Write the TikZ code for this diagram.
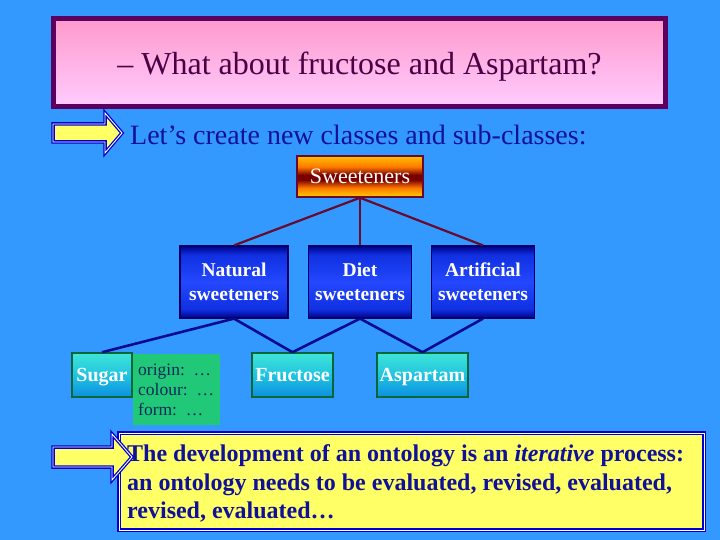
\documentclass[tikz,border=0pt]{standalone}
\usepackage{fontspec}
\setmainfont{Liberation Serif}
\definecolor{bg}{HTML}{3399FF}
\definecolor{titleborder}{HTML}{5C0060}
\definecolor{titletext}{HTML}{4A0045}
\definecolor{pinktop}{HTML}{FF99CC}
\definecolor{pinkbot}{HTML}{FFCCFF}
\definecolor{navy}{HTML}{10109A}
\definecolor{arrowblue}{HTML}{0000CC}
\definecolor{lemon}{HTML}{FFFF66}
\definecolor{maroon}{HTML}{660A2E}
\definecolor{connblue}{HTML}{0A0A90}
\definecolor{leafborder}{HTML}{006838}
\definecolor{notegreen}{HTML}{20C878}
\definecolor{notetext}{HTML}{0A2A5A}
\definecolor{sw1}{HTML}{FFD000}
\definecolor{sw2}{HTML}{FF7A00}
\definecolor{sw3}{HTML}{7A0000}
\definecolor{bl1}{HTML}{00008C}
\definecolor{bl2}{HTML}{1030E0}
\definecolor{bl3}{HTML}{2448FF}
\definecolor{cy1}{HTML}{40E4D8}
\definecolor{cy2}{HTML}{20C4E0}
\definecolor{cy3}{HTML}{0C90E0}
\pgfdeclareverticalshading{sweetshade}{100bp}{color(0bp)=(sw1); color(25bp)=(sw1); color(36bp)=(sw2); color(46bp)=(sw3); color(52bp)=(sw3); color(62bp)=(sw2); color(75bp)=(sw1!80!sw2); color(100bp)=(sw1!80!sw2)}
\pgfdeclareverticalshading{blueshade}{100bp}{color(0bp)=(bl1); color(25bp)=(bl1); color(31bp)=(bl2); color(50bp)=(bl3); color(69bp)=(bl2); color(75bp)=(bl1); color(100bp)=(bl1)}
\pgfdeclareverticalshading{leafshade}{100bp}{color(0bp)=(cy3); color(25bp)=(cy3); color(50bp)=(cy2); color(75bp)=(cy1); color(100bp)=(cy1)}
\tikzset{
  topbox/.style={draw=maroon, line width=1.5pt, shading=sweetshade, shade, text=white, font=\fontsize{22}{24}\selectfont, inner sep=0pt},
  midbox/.style={draw=bl1!70!black, line width=1.2pt, shading=blueshade, shade, text=white, font=\bfseries\fontsize{19.5}{24}\selectfont, align=center, inner sep=0pt, minimum height=72pt},
  leafbox/.style={draw=leafborder, line width=1.5pt, shading=leafshade, shade, text=white, font=\bfseries\fontsize{20}{22}\selectfont, inner sep=0pt, minimum height=44pt, text height=15pt, text depth=2pt},
  notebox/.style={fill=notegreen, text=notetext, font=\fontsize{17.5}{20}\selectfont, align=left, inner xsep=5pt, inner ysep=0pt},
  upconn/.style={draw=maroon, line width=2.2pt},
  lowconn/.style={draw=connblue, line width=2.6pt},
  fatarrow/.style={draw=arrowblue, line width=1.3pt, double=white, double distance=0.9pt, fill=lemon, line join=miter}
}
\begin{document}
\begin{tikzpicture}[x=1pt,y=-1pt]
\useasboundingbox (0,0) rectangle (720,540);
\fill[bg] (0,0) rectangle (720,540);
% title
\node[draw=titleborder, line width=5pt, top color=pinktop, bottom color=pinkbot, minimum width=612pt, minimum height=88pt, inner sep=0pt] (title) at (359.5,62.5) {};
\node[anchor=base, text=titletext, font=\fontsize{32}{34}\selectfont, inner sep=0pt] (titletxt) at (359.5,75) {-- What about fructose and Aspartam?};
% arrow 1
\draw[fatarrow] (53,124) -- (105,124) -- (105,113) -- (122,133) -- (105,153) -- (105,142) -- (53,142) -- cycle;
\node[anchor=base west, text=navy, font=\fontsize{28}{30}\selectfont, inner sep=0pt] (sub) at (130,145) {Let’s create new classes and sub-classes:};
% hierarchy
\node[topbox, minimum width=126pt, minimum height=41pt] (sw) at (360,176.5) {Sweeteners};
\node[midbox, minimum width=108pt] (nat) at (234,282) {Natural\\sweeteners};
\node[midbox, minimum width=103pt] (diet) at (360,282) {Diet\\sweeteners};
\node[midbox, minimum width=103pt] (art) at (483,282) {Artificial\\sweeteners};
\node[leafbox, minimum width=60pt] (sugar) at (102,375) {Sugar};
\node[leafbox, minimum width=81pt] (fru) at (292.5,375) {Fructose};
\node[leafbox, minimum width=91pt] (asp) at (422.5,375) {Aspartam};
\node[notebox, minimum width=87pt, minimum height=71pt, text width=77pt, anchor=north west] (note) at (133,354) {origin: …\\colour: …\\form: …};
\draw[upconn] (sw.south) -- (nat.north);
\draw[upconn] (sw.south) -- (diet.north);
\draw[upconn] (sw.south) -- (art.north);
\draw[lowconn] (nat.south) -- (sugar.north);
\draw[lowconn] (nat.south) -- (fru.north);
\draw[lowconn] (diet.south) -- (fru.north);
\draw[lowconn] (diet.south) -- (asp.north);
\draw[lowconn] (art.south) -- (asp.north);
% bottom box
\node[draw=arrowblue, line width=1.6pt, double=white, double distance=0.9pt, fill=lemon, minimum width=585pt, minimum height=97pt, inner sep=0pt] (bot) at (411.5,481.5) {};
\node[anchor=north west, align=left, text=navy, font=\bfseries\fontsize{24}{28.5}\selectfont, inner sep=0pt] (bottext) at (127,444.5)
 {The development of an ontology is an \textit{iterative} process:\\an ontology needs to be evaluated, revised, evaluated,\\revised, evaluated…};
% arrow 2
\draw[fatarrow] (53,447) -- (112,447) -- (112,434) -- (132,457) -- (112,480) -- (112,467) -- (53,467) -- cycle;
\end{tikzpicture}
\end{document}
